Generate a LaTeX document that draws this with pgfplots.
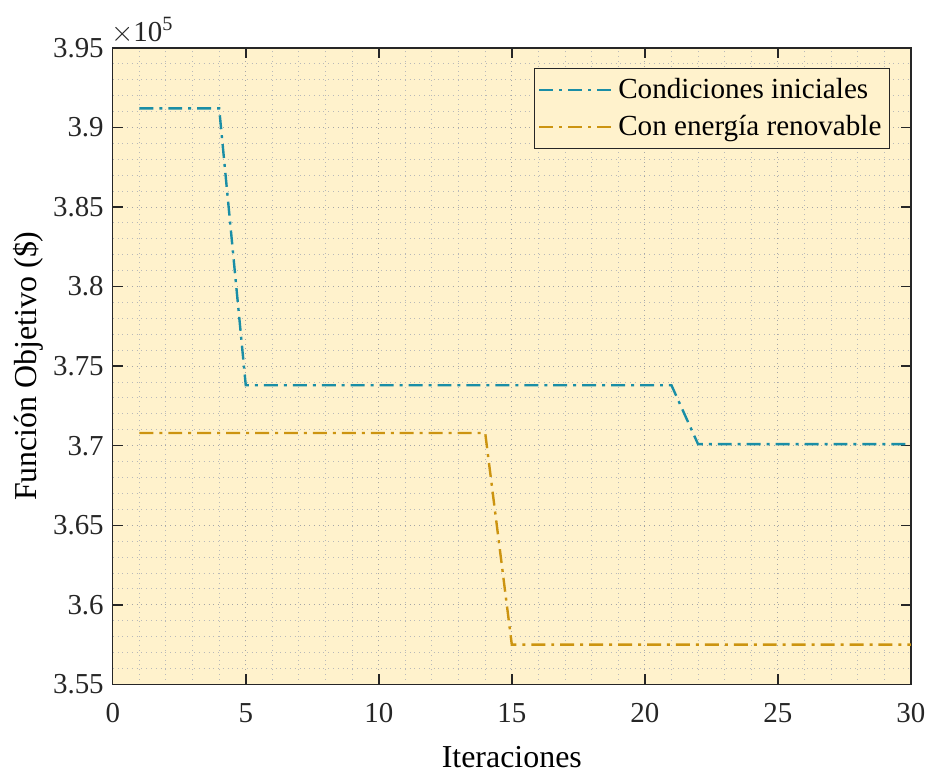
\documentclass[border=0pt]{standalone}
\usepackage{fontspec}
\setmainfont{Liberation Serif}
\usepackage{pgfplots}
\pgfplotsset{compat=1.18}
\definecolor{bgc}{HTML}{FFF2CC}
\definecolor{c1}{HTML}{1A8EA6}
\definecolor{c2}{HTML}{CC9410}
\definecolor{axc}{HTML}{262626}
\tikzset{mdashdot/.style={dash pattern=on 7pt off 3pt on 1.5pt off 3pt}}
\begin{document}
\begin{tikzpicture}
\begin{axis}[
  scale only axis,
  width=400pt, height=319pt,
  xmin=0, xmax=30, ymin=355000, ymax=395000,
  xtick={0,5,...,30},
  ytick={355000,360000,...,395000},
  scaled y ticks=base 10:-5,
  ytick scale label code/.code={$\times$10\textsuperscript{5}},
  every y tick scale label/.style={at={(rel axis cs:0,1)}, anchor=south west, inner sep=0pt, yshift=2pt, font=\fontsize{14.5}{16}\selectfont},
  /pgf/number format/fixed,
  /pgf/number format/precision=2,
  /pgf/number format/assume math mode=true,
  ticklabel style={font=\fontsize{14.5}{16}\selectfont, color=axc},
  xticklabel style={yshift=-6pt},
  yticklabel style={xshift=-1pt},
  tick align=inside,
  major tick length=5pt,
  tick style={axc, line width=0.75pt},
  minor tick length=0pt,
  axis line style={axc, line width=0.75pt},
  axis background/.style={fill=bgc},
  grid=both,
  minor x tick num=4, minor y tick num=4,
  major grid style={dotted, gray!70, line width=0.5pt},
  minor grid style={dotted, gray!55, line width=0.5pt},
  xlabel={Iteraciones},
  ylabel={Función Objetivo (\$)},
  label style={font=\fontsize{16}{18}\selectfont},
  xlabel style={yshift=-5pt},
  ylabel style={yshift=-2pt},
  legend style={at={(1,1)}, xshift=-10.5pt, yshift=-10pt, anchor=north east, fill=bgc, draw=axc, line width=0.5pt,
    font=\fontsize{14.6}{17}\selectfont, row sep=3pt, inner xsep=2pt, inner ysep=3pt},
  legend image code/.code={\draw[#1, line width=1.2pt] (0pt,0pt) -- (37pt,0pt);},
  legend cell align=left,
]
\addplot[c1, line width=1.2pt, mdashdot] coordinates {
(1,391200)(2,391200)(3,391200)(4,391200)(5,373800)(6,373800)(7,373800)(8,373800)(9,373800)(10,373800)
(11,373800)(12,373800)(13,373800)(14,373800)(15,373800)(16,373800)(17,373800)(18,373800)(19,373800)(20,373800)
(21,373800)(22,370100)(23,370100)(24,370100)(25,370100)(26,370100)(27,370100)(28,370100)(29,370100)(30,370100)};
\addlegendentry{Condiciones iniciales}
\addplot[c2, line width=1.2pt, mdashdot] coordinates {
(1,370800)(2,370800)(3,370800)(4,370800)(5,370800)(6,370800)(7,370800)(8,370800)(9,370800)(10,370800)
(11,370800)(12,370800)(13,370800)(14,370800)(15,357500)(16,357500)(17,357500)(18,357500)(19,357500)(20,357500)
(21,357500)(22,357500)(23,357500)(24,357500)(25,357500)(26,357500)(27,357500)(28,357500)(29,357500)(30,357500)};
\addlegendentry{Con energía renovable}
\end{axis}
\path (current axis.south west) ++(-56.5pt,-44pt) coordinate (bbsw);
\path (current axis.north east) ++(9.5pt,24pt) coordinate (bbne);
\useasboundingbox (bbsw) rectangle (bbne);
\end{tikzpicture}
\end{document}
